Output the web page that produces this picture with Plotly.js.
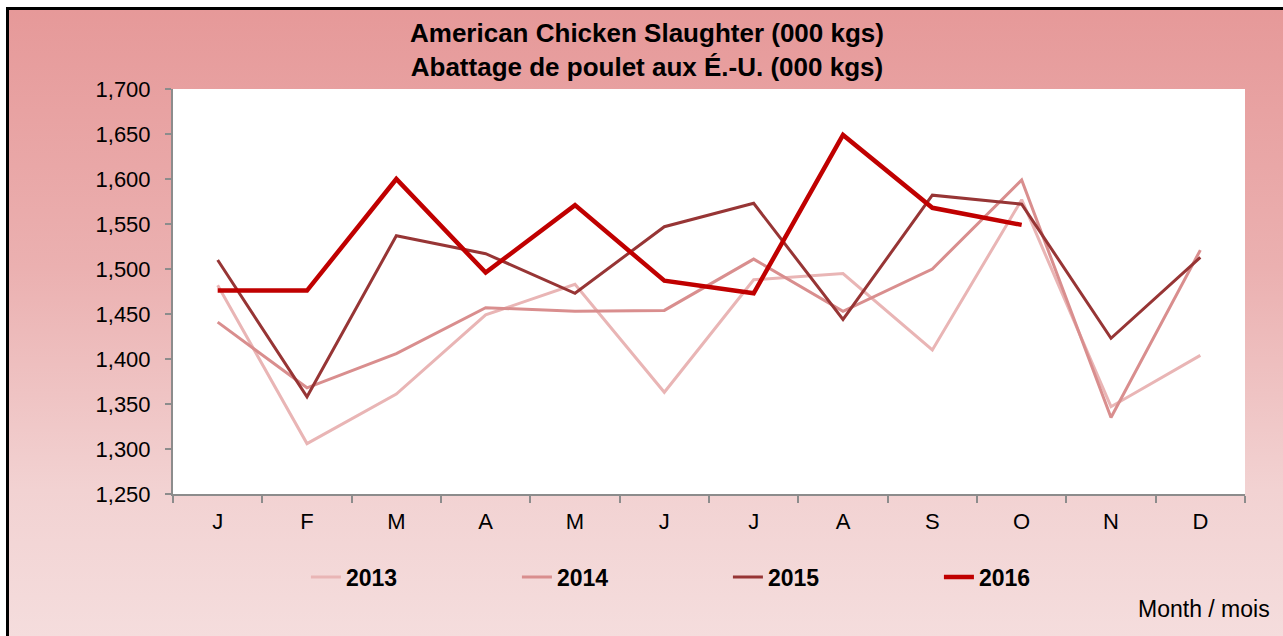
<!DOCTYPE html>
<html>
<head>
<meta charset="utf-8">
<script src="https://cdn.plot.ly/plotly-3.0.1.min.js"></script>
<style>
  html, body { margin:0; padding:0; width:1283px; height:636px; overflow:hidden; background:#ffffff; }
  #frame { position:absolute; left:6px; top:7px; width:1290px; height:640px;
           border-left:3px solid #000; border-top:3px solid #000;
           background:linear-gradient(to bottom, #E69999 0%, #EBB0B0 40%, #F2D2D2 75%, #F5DEDE 100%); }
  #chart { position:absolute; left:0; top:0; width:1283px; height:636px; }
</style>
</head>
<body>
<div id="frame"></div>
<div id="chart"></div>
<script>
const months = ["J","F","M","A","M","J","J","A","S","O","N","D"];
const y2013 = [1482, 1306, 1361, 1449, 1483, 1363, 1488, 1495, 1410, 1577, 1347, 1404];
const y2014 = [1441, 1368, 1406, 1457, 1453, 1454, 1511, 1453, 1500, 1599, 1335, 1521];
const y2015 = [1510, 1358, 1537, 1517, 1473, 1547, 1573, 1444, 1582, 1572, 1423, 1513];
const y2016 = [1476, 1476, 1600, 1496, 1571, 1487, 1473, 1649, 1568, 1549];
const yTicks = [1250,1300,1350,1400,1450,1500,1550,1600,1650,1700];
const titleText = '<b>American Chicken Slaughter (000 kgs)<br>Abattage de poulet aux É.-U. (000 kgs)</b>';

const idx = months.map((m,i)=>i);
function tr(name, ys, color, width) {
  return { x: idx.slice(0, ys.length), y: ys, name: name, type: 'scatter', mode: 'lines',
           line: { color: color, width: width } };
}
const data = [
  tr('2013', y2013, '#E9B5B5', 3),
  tr('2014', y2014, '#D98E8E', 3),
  tr('2015', y2015, '#973535', 3),
  tr('2016', y2016, '#C00000', 4.5)
];
const font = "Liberation Sans, Arial, sans-serif";
const layout = {
  width: 1283, height: 636,
  paper_bgcolor: 'rgba(0,0,0,0)', plot_bgcolor: '#ffffff',
  margin: { l: 173, r: 38, t: 89, b: 142, pad: 0 },
  showlegend: true,
  legend: { orientation: 'h', x: 0.124, xanchor: 'left', y: -0.205, yanchor: 'middle',
            font: { family: font, size: 23, color: '#000', weight: 'bold' },
            entrywidth: 166, entrywidthmode: 'pixels', bgcolor: 'rgba(0,0,0,0)', traceorder: 'normal' },
  xaxis: { range: [-0.5, 11.5], tickvals: idx, ticktext: months, ticks: '', showgrid: false, zeroline: false,
           showline: true, linecolor: '#8c8c8c', linewidth: 2,
           tickfont: { family: font, size: 22, color: '#000' }, ticklabelstandoff: 7,
           minor: { tick0: -0.5, dtick: 1, ticks: 'outside', ticklen: 7, tickwidth: 2, tickcolor: '#8c8c8c', showgrid: false },
           fixedrange: true },
  yaxis: { range: [1250, 1700], tickvals: yTicks, ticktext: yTicks.map(v => v.toLocaleString('en-US')),
           ticks: 'outside', ticklen: 6, tickwidth: 2, tickcolor: '#8c8c8c',
           showline: true, linecolor: '#8c8c8c', linewidth: 2, showgrid: false, zeroline: false,
           tickfont: { family: font, size: 22, color: '#000' }, ticklabelstandoff: 10, fixedrange: true },
  annotations: [
    { text: titleText, xref: 'paper', yref: 'paper', x: (647 - 173) / 1072, y: (494 - 50) / 405, xanchor: 'center', yanchor: 'middle',
      showarrow: false, font: { family: font, size: 26, color: '#000' } },
    { text: 'Month / mois', xref: 'paper', yref: 'paper', x: 1.0255, y: -0.285, xanchor: 'right', yanchor: 'middle',
      showarrow: false, font: { family: font, size: 23, color: '#000' } }
  ]
};
Plotly.newPlot('chart', data, layout, { displayModeBar: false, staticPlot: true });
</script>
</body>
</html>
